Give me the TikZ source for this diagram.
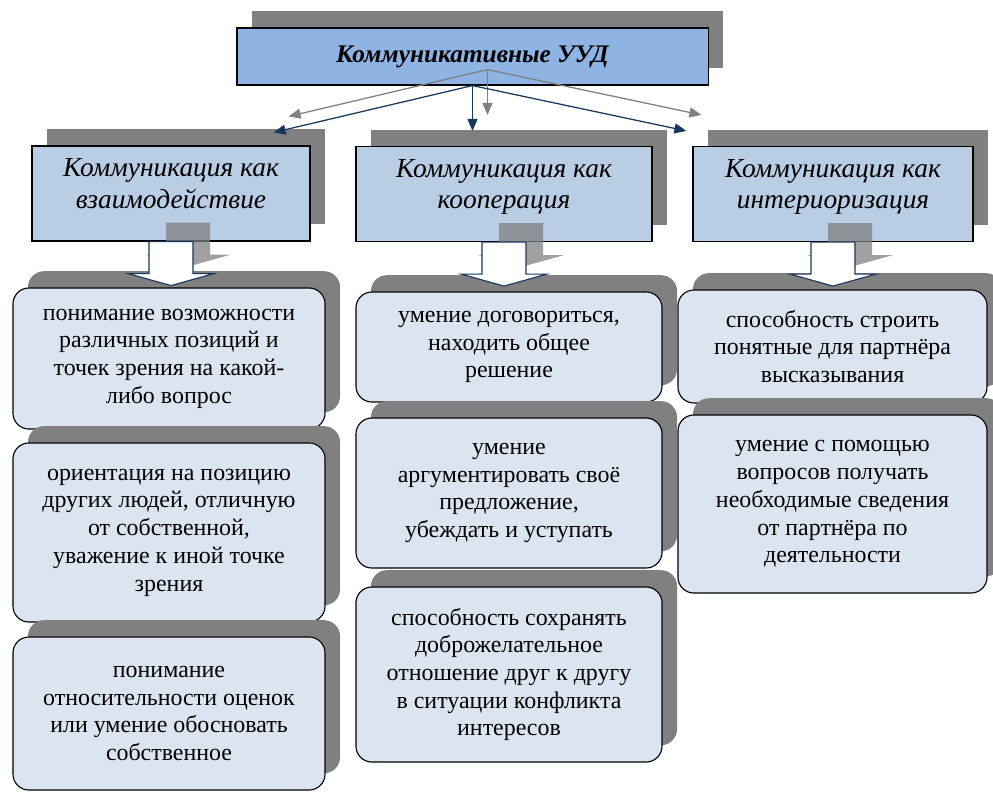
\documentclass[tikz,border=0pt]{standalone}
\usepackage{fontspec}
\setmainfont{Liberation Serif}
\usepackage{tikz}
\usetikzlibrary{shadows,arrows.meta,calc,positioning}

\definecolor{shadowgray}{RGB}{128,128,128}
\definecolor{topblue}{RGB}{141,180,226}
\definecolor{midblue}{RGB}{185,205,229}
\definecolor{lowblue}{RGB}{219,229,241}
\definecolor{navy}{RGB}{23,55,94}

\tikzset{
  boxshadow/.style={drop shadow={shadow xshift=0.375cm, shadow yshift=0.42cm, fill=shadowgray, opacity=1}},
  headbox/.style={draw, thick, fill=topblue, boxshadow, minimum width=11.775cm, minimum height=1.425cm,
    font=\fontsize{18}{22}\selectfont\bfseries\itshape},
  typebox/.style={draw, thick, fill=midblue, boxshadow, minimum height=2.375cm, align=center,
    text depth=0.5cm, font=\fontsize{19.5}{22.7}\selectfont\itshape},
  skillbox/.style={draw, thick, fill=lowblue, rounded corners=0.4cm, boxshadow, align=center,
    font=\fontsize{17}{19.7}\selectfont},
  link/.style={line width=0.9pt, -{Triangle[length=0.3cm,width=0.25cm]}},
  blockarrow/.style={draw=navy, thick, fill=white},
}

\begin{document}
\begin{tikzpicture}[x=0.025cm, y=-0.025cm]
\useasboundingbox (0,0) rectangle (993,791);

% top
\node[headbox] (uud) at (472.5,56.5) {Коммуникативные УУД};

% kinds of communication
\node[typebox, minimum width=6.95cm] (vz) at (171,193.5) {Коммуникация как\\взаимодействие};
\node[typebox, minimum width=7.4cm] (ko) at (504,194) {Коммуникация как\\кооперация};
\node[typebox, minimum width=7cm] (in) at (833,194) {Коммуникация как\\интериоризация};

% skills
\node[skillbox, minimum width=7.8cm, minimum height=3.525cm] (vz1) at (169,358.5)
  {понимание возможности\\различных позиций и\\точек зрения на какой-\\либо вопрос};
\node[skillbox, minimum width=7.8cm, minimum height=4.475cm] (vz2) at (169,532.5)
  {ориентация на позицию\\других людей, отличную\\от собственной,\\уважение к иной точке\\зрения};
\node[skillbox, minimum width=7.8cm, minimum height=3.825cm] (vz3) at (169,713.5)
  {понимание\\относительности оценок\\или умение обосновать\\собственное};

\node[skillbox, minimum width=7.65cm, minimum height=2.75cm] (ko1) at (509,347)
  {умение договориться,\\находить общее\\решение};
\node[skillbox, minimum width=7.65cm, minimum height=3.75cm] (ko2) at (509,493)
  {умение\\аргументировать своё\\предложение,\\убеждать и уступать};
\node[skillbox, minimum width=7.65cm, minimum height=4.375cm] (ko3) at (509,674.5)
  {способность сохранять\\доброжелательное\\отношение друг к другу\\в ситуации конфликта\\интересов};

\node[skillbox, minimum width=7.725cm, minimum height=2.825cm] (in1) at (832.5,346.5)
  {способность строить\\понятные для партнёра\\высказывания};
\node[skillbox, minimum width=7.725cm, minimum height=4.45cm] (in2) at (832.5,504)
  {умение с помощью\\вопросов получать\\необходимые сведения\\от партнёра по\\деятельности};

% links from the top, shadow first
\foreach \dx/\up/\c in {15/16/shadowgray, 0/0/navy} {
  \draw[link, \c] ($(uud.south)+(\dx,-\up)$) -- ($(vz.north east)+(-37+\dx,-13-\up)$);
  \draw[link, \c] ($(uud.south)+(\dx,-\up)$) -- ($(uud.south |- ko.north)+(\dx,-15-\up)$);
  \draw[link, \c] ($(uud.south)+(\dx,-\up)$) -- ($(in.north west)+(-6+\dx,-15-\up)$);
}

% block arrows down to the skills
\foreach \n in {vz,ko,in} {
  \fill[shadowgray, opacity=.75] ($(\n.south)+(-5,-19)$) -- ++(0,32) -- ++(-21,0) -- ++(43,12)
    -- ++(43,-12) -- ++(-21,0) -- ++(0,-32) -- cycle;
  \draw[blockarrow] ($(\n.south)+(-22,0)$) -- ++(0,32) -- ++(-21,0) -- ++(43,12)
    -- ++(43,-12) -- ++(-21,0) -- ++(0,-32) -- cycle;
}
\end{tikzpicture}
\end{document}
